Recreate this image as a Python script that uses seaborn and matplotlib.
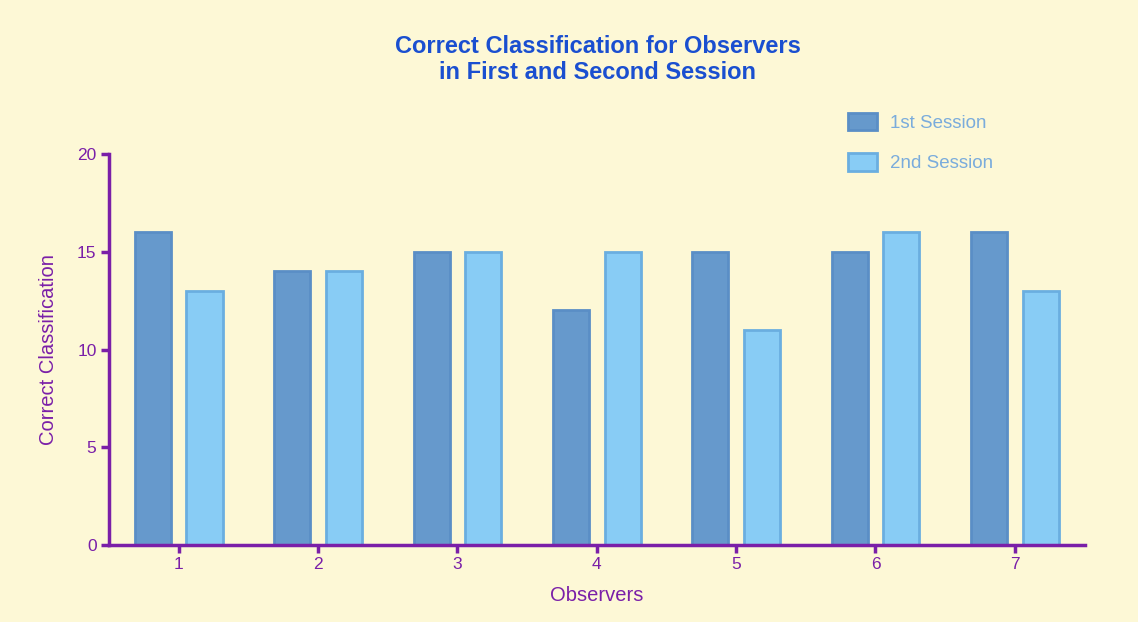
import matplotlib
matplotlib.use("Agg")
import matplotlib.pyplot as plt
import seaborn as sns
import pandas as pd

observers = ["1", "2", "3", "4", "5", "6", "7"]
first_session = [16, 14, 15, 12, 15, 15, 16]
second_session = [13, 14, 15, 15, 11, 16, 13]
series_names = ["1st Session", "2nd Session"]

df = pd.DataFrame({
    "Observers": observers * 2,
    "Correct Classification": first_session + second_session,
    "Session": [series_names[0]] * len(observers) + [series_names[1]] * len(observers),
})

sns.set_theme(style="white")
plt.rcParams["font.family"] = ["Liberation Sans", "DejaVu Sans"]

BG = "#fdf8d6"
PURPLE = "#7a1fa8"
fill_colors = ["#6699cc", "#88ccf5"]
edge_colors = ["#5a8ec6", "#6aaee0"]

fig = plt.figure(figsize=(11.38, 6.22), dpi=100, facecolor=BG)
ax = fig.add_axes([0.0958, 0.1238, 0.8572, 0.6286])
ax.set_facecolor(BG)

sns.barplot(data=df, x="Observers", y="Correct Classification", hue="Session",
            palette=fill_colors, width=0.74, gap=0.3, ax=ax, legend=True,
            saturation=1)

for i, container in enumerate(ax.containers):
    for p in container:
        p.set_edgecolor(edge_colors[i])
        p.set_linewidth(2)

ax.set_xlim(-0.5, 6.5)
ax.set_ylim(0, 20)
ax.set_yticks([0, 5, 10, 15, 20])

for side in ["top", "right"]:
    ax.spines[side].set_visible(False)
for side in ["left", "bottom"]:
    ax.spines[side].set_color(PURPLE)
    ax.spines[side].set_linewidth(2.5)

ax.tick_params(axis="both", colors=PURPLE, labelcolor=PURPLE, length=6, width=2.5,
               labelsize=12.5, left=True, bottom=True, direction="out", pad=3)

ax.set_xlabel("Observers", color=PURPLE, fontsize=14.5, labelpad=10)
ax.set_ylabel("Correct Classification", color=PURPLE, fontsize=14.5, labelpad=14)

fig.suptitle("Correct Classification for Observers\nin First and Second Session",
             x=0.525, y=0.944, color="#1a4fd0", fontsize=17, fontweight="bold",
             linespacing=1.2)

handles, labels = ax.get_legend_handles_labels()
ax.legend_.remove()
for h, ec in zip(handles, edge_colors):
    h.set_edgecolor(ec)
    h.set_linewidth(2)
leg = fig.legend(handles, labels, loc="upper left", bbox_to_anchor=(0.73, 0.846),
                 frameon=False, fontsize=13.5, handlelength=1.55, handleheight=1.05,
                 labelspacing=1.15, handletextpad=0.7, labelcolor="#7aacdc")

fig.savefig("out.png", dpi=100, facecolor=BG)
